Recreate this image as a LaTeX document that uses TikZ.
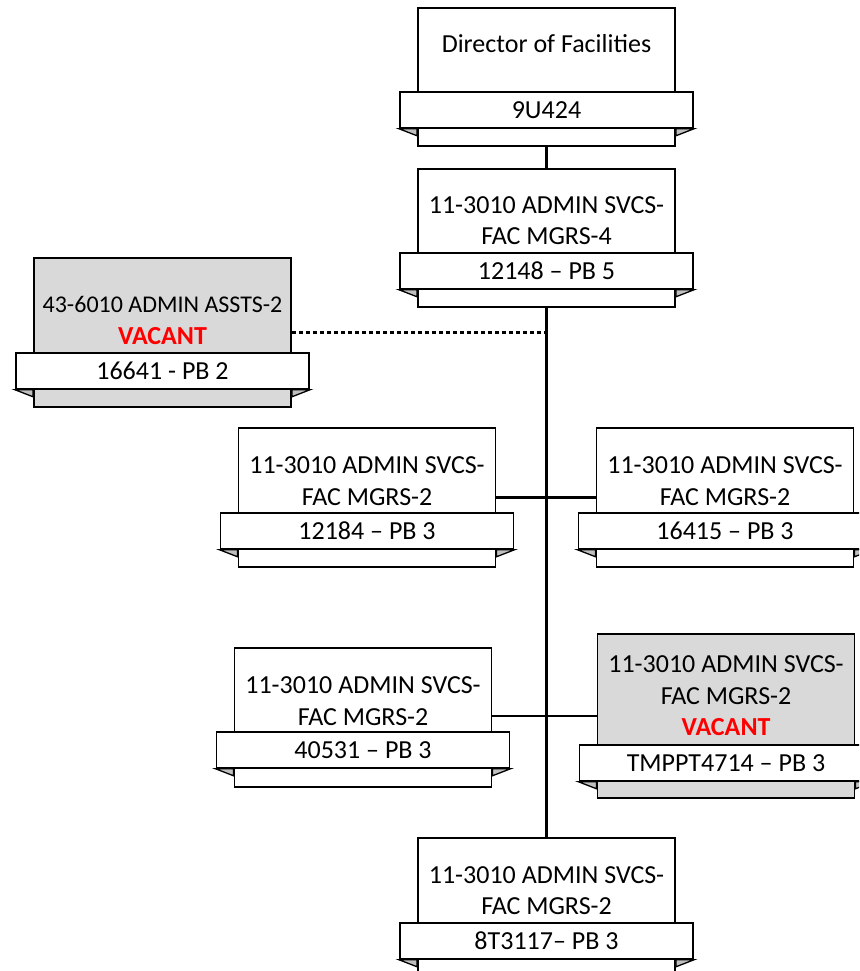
\documentclass[tikz,border=0pt]{standalone}
\usepackage{fontspec}
\setmainfont{Carlito}
\usetikzlibrary{positioning, calc}

\definecolor{vacgray}{HTML}{D9D9D9}
\definecolor{foldgray}{HTML}{BFBFBF}
\definecolor{vacred}{HTML}{FF0000}

\tikzset{
    post/.style={draw, line width=1.8pt, fill=white, minimum width=257pt, inner sep=0pt, anchor=north},
    band/.style={draw, line width=1.8pt, fill=white, minimum width=293pt, minimum height=36pt, inner sep=0pt, anchor=north,
        font=\fontsize{26}{31.5}\selectfont},
    fold/.style={draw, line width=1.3pt, fill=foldgray},
    poslabel/.style={inner sep=0pt, align=center, font=\fontsize{26}{31.5}\selectfont},
    link/.style={line width=2.2pt},
}

\newcommand{\vac}{\fontsize{26}{31.5}\selectfont\textcolor{vacred}{\bfseries VACANT}}

\begin{document}
\begin{tikzpicture}[x=1pt, y=-1pt]
    \useasboundingbox (0,0) rectangle (859,971);
    \clip (0,0) rectangle (859,971);

    % Posts
    \node[post, minimum height=138pt] (dir) at (546.5,7) {};
    \node[post, minimum height=138pt] (mgr) at (546.5,168) {};
    \node[post, fill=vacgray, minimum height=149pt] (asst) at (162.5,257) {};
    \node[post, minimum height=139pt] (fmL) at (367,427) {};
    \node[post, minimum height=139pt] (fmR) at (725,427) {};
    \node[post, minimum height=139pt] (fmLL) at (363,647) {};
    \node[post, fill=vacgray, minimum height=164pt] (fmV) at (726,633) {};
    \node[post, minimum height=138pt] (fmB) at (546.5,837) {};

    % Connections
    \draw[link] (dir) -- (mgr);
    \draw[link] (mgr) -- (fmB);
    \draw[link, dash pattern=on 4pt off 3pt] (asst.east) -- (asst.east -| mgr.south);
    \draw[link] (fmL.east) -- (fmL.east -| fmR.west);
    \draw[link] (fmV.west -| fmLL.east) -- (fmV.west);

    % Bands
    \node[band] (dir-b) at (546.5,91) {9U424};
    \node[band] (mgr-b) at (546.5,252) {12148 – PB 5};
    \node[band] (asst-b) at (162.5,352) {16641 - PB 2};
    \node[band] (fmL-b) at (367,512) {12184 – PB 3};
    \node[band] (fmR-b) at (725,512) {16415 – PB 3};
    \node[band] (fmLL-b) at (363,731) {40531 – PB 3};
    \node[band] (fmV-b) at (726,744) {TMPPT4714 – PB 3};
    \node[band] (fmB-b) at (546.5,922) {8T3117– PB 3};

    % Folds under the bands
    \foreach \p in {dir, mgr, asst, fmL, fmR, fmLL, fmV, fmB} {
        \path[fold] (\p-b.south west) -- (\p-b.south west -| \p.west) -- ++(0,7) -- cycle;
        \path[fold] (\p-b.south east) -- (\p-b.south east -| \p.east) -- ++(0,7) -- cycle;
    }

    % Titles
    \node[poslabel] (dir-t) at (546.5,44) {Director of Facilities};
    \node[poslabel] (mgr-t) at (546.5,220.5) {11-3010 ADMIN SVCS-\\FAC MGRS-4};
    \node[poslabel, font=\fontsize{24}{31.5}\selectfont] (asst-t) at (162.5,320.5) {43-6010 ADMIN ASSTS-2\\\vac};
    \node[poslabel] (fmL-t) at (367,481) {11-3010 ADMIN SVCS-\\FAC MGRS-2};
    \node[poslabel] (fmR-t) at (725,481) {11-3010 ADMIN SVCS-\\FAC MGRS-2};
    \node[poslabel] (fmLL-t) at (363,701) {11-3010 ADMIN SVCS-\\FAC MGRS-2};
    \node[poslabel] (fmV-t) at (726,696) {11-3010 ADMIN SVCS-\\FAC MGRS-2\\\vac};
    \node[poslabel] (fmB-t) at (546.5,890.5) {11-3010 ADMIN SVCS-\\FAC MGRS-2};
\end{tikzpicture}
\end{document}
